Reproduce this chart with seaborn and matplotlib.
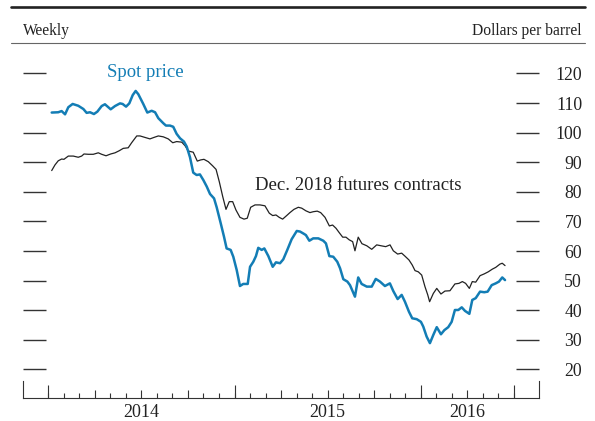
import matplotlib
matplotlib.use('Agg')
import matplotlib.pyplot as plt
import seaborn as sns
import pandas as pd
from matplotlib.lines import Line2D

sns.set_style('white')
plt.rcParams['font.family'] = ['Liberation Serif', 'DejaVu Serif']

# time in months since January 2014 (weekly observations)
spot_t = [0.22, 0.64, 0.86, 1.08, 1.29, 1.57, 1.93, 2.26, 2.47, 2.69,
          2.94, 3.16, 3.44, 3.65, 4.02, 4.30, 4.62, 4.79, 5.01, 5.22,
          5.44, 5.63, 5.80, 6.12, 6.38, 6.66, 6.88, 7.09, 7.41, 7.58,
          7.84, 8.05, 8.27, 8.49, 8.74, 8.92, 9.13, 9.34, 9.56, 9.77,
          9.99, 10.21, 10.42, 10.68, 10.85, 11.11, 11.32, 11.49, 11.75, 11.92,
          12.14, 12.35, 12.56, 12.85, 13.00, 13.21, 13.38, 13.53, 13.75, 13.92,
          14.18, 14.46, 14.67, 14.93, 15.14, 15.40, 15.68, 16.01, 16.22, 16.48,
          16.60, 16.82, 17.07, 17.40, 17.72, 17.89, 18.11, 18.36, 18.62, 18.80,
          19.01, 19.27, 19.44, 19.76, 19.97, 20.19, 20.52, 20.84, 21.10, 21.37,
          21.69, 22.01, 22.23, 22.51, 22.77, 22.98, 23.24, 23.45, 23.74, 24.01,
          24.16, 24.38, 24.59, 24.81, 25.03, 25.30, 25.52, 25.77, 25.99, 26.20,
          26.42, 26.64, 26.85, 27.13, 27.32, 27.54, 27.82, 28.09, 28.31, 28.57,
          28.83, 29.04, 29.25, 29.43]
spot_v = [106.8, 106.9, 107.3, 106.2, 108.6, 109.7, 109.1, 108.0, 106.7, 106.9,
          106.3, 107.1, 109.0, 109.6, 107.9, 109.0, 109.9, 109.7, 108.8, 109.9,
          112.7, 114.1, 113.0, 109.7, 106.8, 107.4, 106.9, 104.9, 103.2, 102.4,
          102.4, 102.0, 99.6, 98.1, 97.0, 95.3, 91.7, 86.5, 85.7, 85.9,
          84.0, 81.8, 79.3, 77.8, 74.8, 69.4, 64.9, 60.9, 60.4, 58.1,
          53.6, 48.2, 48.9, 48.9, 54.7, 56.4, 58.3, 61.1, 60.4, 60.9,
          58.3, 54.7, 56.2, 55.9, 57.2, 60.4, 64.0, 66.8, 66.6, 65.8,
          65.4, 63.5, 64.3, 64.3, 63.5, 62.6, 58.3, 58.1, 56.4, 54.2,
          50.5, 49.7, 48.5, 44.6, 51.1, 48.9, 48.0, 48.0, 50.6, 49.7,
          48.2, 49.1, 46.5, 43.8, 45.2, 42.9, 39.5, 37.3, 37.0, 36.1,
          34.5, 31.1, 28.9, 31.7, 34.3, 31.9, 33.3, 34.3, 36.1, 40.1,
          40.1, 41.0, 39.8, 38.8, 43.5, 44.1, 46.3, 46.1, 46.3, 48.5,
          49.1, 49.7, 51.1, 50.2]

fut_t = [0.22, 0.43, 0.64, 0.86, 1.01, 1.29, 1.61, 1.93, 2.15, 2.30,
         2.58, 2.90, 3.22, 3.44, 3.72, 4.02, 4.30, 4.57, 4.83, 5.15,
         5.37, 5.70, 5.91, 6.23, 6.55, 6.81, 7.09, 7.41, 7.73, 8.02,
         8.27, 8.60, 8.81, 9.02, 9.34, 9.60, 9.82, 10.03, 10.31, 10.59,
         10.81, 11.02, 11.24, 11.45, 11.66, 11.88, 12.09, 12.35, 12.61, 12.82,
         13.04, 13.32, 13.64, 13.96, 14.24, 14.46, 14.67, 14.88, 15.10, 15.36,
         15.57, 15.83, 16.11, 16.33, 16.60, 16.86, 17.07, 17.33, 17.55, 17.83,
         18.11, 18.32, 18.54, 18.75, 18.97, 19.18, 19.39, 19.61, 19.76, 19.97,
         20.21, 20.52, 20.84, 21.16, 21.44, 21.74, 22.02, 22.23, 22.51, 22.77,
         22.98, 23.24, 23.45, 23.63, 23.84, 24.06, 24.27, 24.45, 24.57, 24.81,
         25.03, 25.30, 25.56, 25.88, 26.20, 26.46, 26.68, 26.89, 27.13, 27.32,
         27.54, 27.82, 28.09, 28.35, 28.61, 28.83, 29.10, 29.25, 29.43]
fut_v = [87.2, 89.1, 90.5, 91.1, 91.0, 92.1, 92.1, 91.7, 92.1, 92.8,
         92.7, 92.7, 93.2, 92.7, 92.2, 92.8, 93.2, 93.9, 94.7, 94.9,
         96.6, 98.9, 98.9, 98.4, 97.9, 98.4, 98.9, 98.6, 97.9, 96.6,
         97.0, 96.8, 95.6, 93.8, 93.4, 90.4, 90.8, 91.0, 90.2, 88.8,
         87.6, 83.4, 78.4, 74.1, 76.7, 76.7, 73.9, 71.4, 70.8, 71.1,
         74.8, 75.6, 75.6, 75.3, 72.8, 72.0, 72.2, 71.4, 70.8, 72.0,
         73.0, 74.1, 74.8, 74.5, 73.6, 73.0, 73.3, 73.5, 73.0, 71.4,
         68.5, 68.8, 67.7, 66.2, 64.7, 64.7, 63.8, 63.2, 60.1, 64.7,
         62.5, 61.8, 60.6, 62.1, 61.8, 61.5, 62.1, 60.1, 59.0, 59.3,
         58.3, 57.0, 55.3, 53.4, 53.0, 51.9, 48.0, 45.2, 42.9, 45.7,
         47.4, 45.5, 46.5, 46.6, 48.9, 49.1, 49.7, 49.1, 47.4, 49.7,
         49.5, 51.7, 52.3, 53.0, 53.9, 54.5, 55.6, 55.9, 55.1]

y_ticks = [20, 30, 40, 50, 60, 70, 80, 90, 100, 110, 120]
year_ticks = [0, 12, 24, 30]
quarter_ticks = [3, 6, 9, 15, 18, 21, 27]
month_ticks = list(range(0, 31))
year_labels = {6: '2014', 18: '2015', 27: '2016'}

spot_color = '#137db5'
line_dark = '#222222'
tick_col = '#333333'

fig = plt.figure(figsize=(5.95, 4.21), dpi=100)
ax = fig.add_axes([0.03815, 0.05392, 0.8677, 0.8067])

df_fut = pd.DataFrame({'t': fut_t, 'v': fut_v})
df_spot = pd.DataFrame({'t': spot_t, 'v': spot_v})
sns.lineplot(data=df_fut, x='t', y='v', ax=ax, color=line_dark, lw=0.9)
sns.lineplot(data=df_spot, x='t', y='v', ax=ax, color=spot_color, lw=1.8)

ax.set_xlim(-1.649, 31.617)
ax.set_ylim(10.27, 125)
ax.set_xlabel('')
ax.set_ylabel('')

ax.spines['top'].set_visible(False)
for s in ['left', 'right']:
    ax.spines[s].set_bounds(10.27, 16.0)
    ax.spines[s].set_color(tick_col)
    ax.spines[s].set_linewidth(0.8)
ax.spines['bottom'].set_color(tick_col)
ax.spines['bottom'].set_linewidth(0.8)

ax.set_xticks(quarter_ticks, labels=[year_labels.get(q, '') for q in quarter_ticks])
ax.set_xticks(month_ticks, minor=True)
ax.tick_params(axis='x', which='major', direction='in', length=5.8, width=0.8,
               color=tick_col, pad=4, labelsize=13, labelcolor='#222222',
               bottom=True, top=False)
ax.tick_params(axis='x', which='minor', direction='in', length=3.6, width=0.8,
               color=tick_col, bottom=True, top=False)

sec = ax.secondary_xaxis('bottom')
sec.set_xticks(year_ticks, labels=[''] * len(year_ticks))
sec.tick_params(direction='in', length=9.7, width=0.8, color=tick_col, bottom=True)
sec.spines['bottom'].set_visible(False)

ax.set_yticks(y_ticks)
ax.tick_params(axis='y', which='major', direction='in', length=16.8, width=1.0,
               color=tick_col, left=True, right=True, labelleft=False,
               labelright=True, pad=31, labelsize=12.8, labelcolor='#222222')
for tk in ax.yaxis.get_major_ticks():
    tk.label2.set_horizontalalignment('right')

ax.text(6.24, 120.2, 'Spot price', color=spot_color, fontsize=13.5,
        ha='center', va='center')
ax.text(19.97, 82.3, 'Dec. 2018 futures contracts', color='#222222',
        fontsize=13.5, ha='center', va='center')

# header rules and captions
fig.add_artist(Line2D([0.0185, 0.983], [0.9841, 0.9841], color='#222222', lw=1.9))
fig.add_artist(Line2D([0.0185, 0.983], [0.8971, 0.8971], color='#666666', lw=0.8))
fig.text(0.038, 0.927, 'Weekly', fontsize=11.2, ha='left', va='center', color='#222222')
fig.text(0.978, 0.927, 'Dollars per barrel', fontsize=11.2, ha='right', va='center',
         color='#222222')

fig.savefig('out.png', dpi=100)
